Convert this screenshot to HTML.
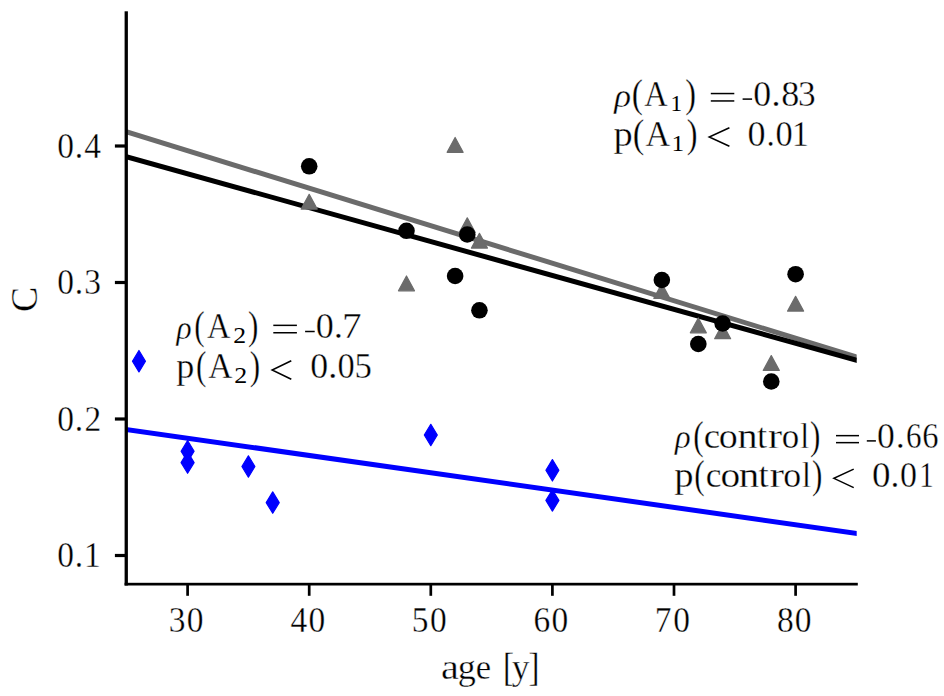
<!DOCTYPE html>
<html><head><meta charset="utf-8"><style>
html,body{margin:0;padding:0;background:#fff;}
svg{display:block;}
text{font-family:"Liberation Serif", serif;fill:#000;stroke:#fff;stroke-width:0.35px;}
</style></head><body>
<svg width="944" height="696" viewBox="0 0 944 696">
<rect width="944" height="696" fill="#fff"/>
<defs><clipPath id="ax"><rect x="126.8" y="0" width="729.9" height="696"/></clipPath></defs>
<g clip-path="url(#ax)">
<line x1="120.0" y1="428.56" x2="865.0" y2="534.58" stroke="#0000ff" stroke-width="5.0" stroke-linecap="butt"/>
<line x1="120.0" y1="129.83" x2="865.0" y2="359.66" stroke="#6b6b6b" stroke-width="5.0" stroke-linecap="butt"/>
<line x1="120.0" y1="154.87" x2="865.0" y2="362.58" stroke="#000" stroke-width="5.0" stroke-linecap="butt"/>
</g>
<polygon points="309.20,194.30 301.20,209.10 317.20,209.10" fill="#6b6b6b" stroke="#6b6b6b" stroke-width="1.2" stroke-linejoin="round"/>
<polygon points="406.48,276.00 398.48,290.80 414.48,290.80" fill="#6b6b6b" stroke="#6b6b6b" stroke-width="1.2" stroke-linejoin="round"/>
<polygon points="455.12,137.50 447.12,152.30 463.12,152.30" fill="#6b6b6b" stroke="#6b6b6b" stroke-width="1.2" stroke-linejoin="round"/>
<polygon points="467.28,217.80 459.28,232.60 475.28,232.60" fill="#6b6b6b" stroke="#6b6b6b" stroke-width="1.2" stroke-linejoin="round"/>
<polygon points="479.44,233.30 471.44,248.10 487.44,248.10" fill="#6b6b6b" stroke="#6b6b6b" stroke-width="1.2" stroke-linejoin="round"/>
<polygon points="661.84,283.60 653.84,298.40 669.84,298.40" fill="#6b6b6b" stroke="#6b6b6b" stroke-width="1.2" stroke-linejoin="round"/>
<polygon points="698.32,318.00 690.32,332.80 706.32,332.80" fill="#6b6b6b" stroke="#6b6b6b" stroke-width="1.2" stroke-linejoin="round"/>
<polygon points="722.64,323.90 714.64,338.70 730.64,338.70" fill="#6b6b6b" stroke="#6b6b6b" stroke-width="1.2" stroke-linejoin="round"/>
<polygon points="771.28,355.60 763.28,370.40 779.28,370.40" fill="#6b6b6b" stroke="#6b6b6b" stroke-width="1.2" stroke-linejoin="round"/>
<polygon points="795.60,296.30 787.60,311.10 803.60,311.10" fill="#6b6b6b" stroke="#6b6b6b" stroke-width="1.2" stroke-linejoin="round"/>
<circle cx="309.20" cy="166.30" r="8.3" fill="#000"/>
<circle cx="406.48" cy="230.80" r="8.3" fill="#000"/>
<circle cx="455.12" cy="276.00" r="8.3" fill="#000"/>
<circle cx="467.28" cy="234.50" r="8.3" fill="#000"/>
<circle cx="479.44" cy="310.30" r="8.3" fill="#000"/>
<circle cx="661.84" cy="280.00" r="8.3" fill="#000"/>
<circle cx="698.32" cy="344.00" r="8.3" fill="#000"/>
<circle cx="722.64" cy="323.50" r="8.3" fill="#000"/>
<circle cx="771.28" cy="381.50" r="8.3" fill="#000"/>
<circle cx="795.60" cy="274.20" r="8.3" fill="#000"/>
<polygon points="138.96,350.50 145.46,361.20 138.96,371.90 132.46,361.20" fill="#0000ff" stroke="#0000ff" stroke-width="1.2" stroke-linejoin="round"/>
<polygon points="187.60,440.50 194.10,451.20 187.60,461.90 181.10,451.20" fill="#0000ff" stroke="#0000ff" stroke-width="1.2" stroke-linejoin="round"/>
<polygon points="187.60,451.90 194.10,462.60 187.60,473.30 181.10,462.60" fill="#0000ff" stroke="#0000ff" stroke-width="1.2" stroke-linejoin="round"/>
<polygon points="248.40,455.80 254.90,466.50 248.40,477.20 241.90,466.50" fill="#0000ff" stroke="#0000ff" stroke-width="1.2" stroke-linejoin="round"/>
<polygon points="272.72,491.90 279.22,502.60 272.72,513.30 266.22,502.60" fill="#0000ff" stroke="#0000ff" stroke-width="1.2" stroke-linejoin="round"/>
<polygon points="430.80,424.30 437.30,435.00 430.80,445.70 424.30,435.00" fill="#0000ff" stroke="#0000ff" stroke-width="1.2" stroke-linejoin="round"/>
<polygon points="552.40,459.60 558.90,470.30 552.40,481.00 545.90,470.30" fill="#0000ff" stroke="#0000ff" stroke-width="1.2" stroke-linejoin="round"/>
<polygon points="552.40,489.70 558.90,500.40 552.40,511.10 545.90,500.40" fill="#0000ff" stroke="#0000ff" stroke-width="1.2" stroke-linejoin="round"/>
<rect x="124.6" y="11.3" width="3.3" height="574.2" fill="#000"/>
<rect x="124.6" y="582.8" width="733.2" height="2.7" fill="#000"/>
<rect x="186.25" y="584" width="2.7" height="11.8" fill="#000"/>
<rect x="307.85" y="584" width="2.7" height="11.8" fill="#000"/>
<rect x="429.45" y="584" width="2.7" height="11.8" fill="#000"/>
<rect x="551.05" y="584" width="2.7" height="11.8" fill="#000"/>
<rect x="672.65" y="584" width="2.7" height="11.8" fill="#000"/>
<rect x="794.25" y="584" width="2.7" height="11.8" fill="#000"/>
<rect x="114.9" y="553.90" width="11" height="3.2" fill="#000"/>
<rect x="114.9" y="417.40" width="11" height="3.2" fill="#000"/>
<rect x="114.9" y="280.90" width="11" height="3.2" fill="#000"/>
<rect x="114.9" y="144.40" width="11" height="3.2" fill="#000"/>
<text transform="matrix(0.9300,0,0,1,168.73,632.10)" font-size="36.0">3</text>
<text transform="matrix(0.9300,0,0,1,186.78,632.10)" font-size="36.0">0</text>
<text transform="matrix(0.9300,0,0,1,290.41,632.10)" font-size="36.0">4</text>
<text transform="matrix(0.9300,0,0,1,308.38,632.10)" font-size="36.0">0</text>
<text transform="matrix(0.9300,0,0,1,411.76,632.10)" font-size="36.0">5</text>
<text transform="matrix(0.9300,0,0,1,429.98,632.10)" font-size="36.0">0</text>
<text transform="matrix(0.9300,0,0,1,533.46,632.10)" font-size="36.0">6</text>
<text transform="matrix(0.9300,0,0,1,551.58,632.10)" font-size="36.0">0</text>
<text transform="matrix(0.9300,0,0,1,654.66,632.10)" font-size="36.0">7</text>
<text transform="matrix(0.9300,0,0,1,673.18,632.10)" font-size="36.0">0</text>
<text transform="matrix(0.9300,0,0,1,776.88,632.10)" font-size="36.0">8</text>
<text transform="matrix(0.9300,0,0,1,794.78,632.10)" font-size="36.0">0</text>
<text transform="matrix(0.9300,0,0,1,57.23,567.00)" font-size="36.0">0</text>
<text transform="matrix(0.9300,0,0,1,74.72,567.00)" font-size="36.0">.</text>
<text transform="matrix(0.9300,0,0,1,83.96,567.00)" font-size="36.0">1</text>
<text transform="matrix(0.9300,0,0,1,57.23,430.50)" font-size="36.0">0</text>
<text transform="matrix(0.9300,0,0,1,74.72,430.50)" font-size="36.0">.</text>
<text transform="matrix(0.9300,0,0,1,84.62,430.50)" font-size="36.0">2</text>
<text transform="matrix(0.9300,0,0,1,57.23,294.00)" font-size="36.0">0</text>
<text transform="matrix(0.9300,0,0,1,74.72,294.00)" font-size="36.0">.</text>
<text transform="matrix(0.9300,0,0,1,84.28,294.00)" font-size="36.0">3</text>
<text transform="matrix(0.9300,0,0,1,57.23,157.50)" font-size="36.0">0</text>
<text transform="matrix(0.9300,0,0,1,74.72,157.50)" font-size="36.0">.</text>
<text transform="matrix(0.9300,0,0,1,84.36,157.50)" font-size="36.0">4</text>
<text transform="matrix(1.1500,0,0,1,440.98,678.70)" font-size="35.0">a</text>
<text transform="matrix(1.0307,0,0,1,457.75,678.70)" font-size="35.0">g</text>
<text transform="matrix(0.9881,0,0,1,475.85,678.70)" font-size="35.0">e</text>
<text transform="matrix(0.8000,0,0,1,503.06,681.30)" font-size="41">[</text>
<text transform="matrix(1.0156,0,0,1,511.77,678.70)" font-size="35.0">y</text>
<text transform="matrix(0.8000,0,0,1,528.46,681.30)" font-size="41">]</text>
<text transform="matrix(1.0277,0,0,1,614.19,106.60)" font-size="34" font-style="italic">ρ</text>
<text transform="matrix(0.8586,0,0,1,631.83,107.00)" font-size="39">(</text>
<text transform="matrix(0.9280,0,0,1,644.18,106.00)" font-size="35.0">A</text>
<text transform="matrix(0.9912,0,0,1,670.45,111.20)" font-size="23.5" style="stroke:none">1</text>
<text transform="matrix(0.8286,0,0,1,685.36,107.00)" font-size="39">)</text>
<rect x="710.80" y="92.80" width="23.50" height="1.50" fill="#000"/>
<rect x="710.80" y="100.20" width="23.50" height="1.50" fill="#000"/>
<rect x="742.60" y="98.35" width="9.50" height="1.50" fill="#000"/>
<text transform="matrix(1.0247,0,0,1,753.33,106.00)" font-size="35.0">0</text>
<text transform="matrix(1.0881,0,0,1,771.19,106.00)" font-size="35.0">.</text>
<text transform="matrix(1.0314,0,0,1,781.23,106.00)" font-size="35.0">8</text>
<text transform="matrix(1.0098,0,0,1,798.11,106.00)" font-size="35.0">3</text>
<text transform="matrix(1.0983,0,0,1,613.38,145.90)" font-size="35.0">p</text>
<text transform="matrix(0.8885,0,0,1,632.78,146.90)" font-size="39">(</text>
<text transform="matrix(0.9766,0,0,1,645.47,145.90)" font-size="35.0">A</text>
<text transform="matrix(1.0758,0,0,1,671.48,151.10)" font-size="23.5" style="stroke:none">1</text>
<text transform="matrix(0.8286,0,0,1,686.66,146.90)" font-size="39">)</text>
<polyline points="729.40,127.70 709.20,136.95 729.40,146.20" fill="none" stroke="#000" stroke-width="1.5" stroke-linejoin="miter" stroke-miterlimit="10"/>
<text transform="matrix(1.0314,0,0,1,747.53,145.90)" font-size="35.0">0</text>
<text transform="matrix(0.9430,0,0,1,766.42,145.90)" font-size="35.0">.</text>
<text transform="matrix(0.9842,0,0,1,775.59,145.90)" font-size="35.0">0</text>
<text transform="matrix(0.9820,0,0,1,791.68,145.90)" font-size="35.0">1</text>
<text transform="matrix(0.9286,0,0,1,176.50,339.00)" font-size="34" font-style="italic">ρ</text>
<text transform="matrix(0.8000,0,0,1,194.37,339.40)" font-size="39">(</text>
<text transform="matrix(0.9280,0,0,1,207.08,338.40)" font-size="35.0">A</text>
<text transform="matrix(1.0933,0,0,1,233.27,343.40)" font-size="23.5" style="stroke:none">2</text>
<text transform="matrix(0.8000,0,0,1,248.04,339.40)" font-size="39">)</text>
<rect x="273.30" y="324.60" width="23.60" height="1.50" fill="#000"/>
<rect x="273.30" y="332.00" width="23.60" height="1.50" fill="#000"/>
<rect x="305.10" y="330.75" width="9.60" height="1.50" fill="#000"/>
<text transform="matrix(1.0314,0,0,1,315.83,338.40)" font-size="35.0">0</text>
<text transform="matrix(1.0639,0,0,1,333.85,338.40)" font-size="35.0">.</text>
<text transform="matrix(1.1209,0,0,1,341.91,338.40)" font-size="35.0">7</text>
<text transform="matrix(1.0341,0,0,1,176.32,378.40)" font-size="35.0">p</text>
<text transform="matrix(0.8000,0,0,1,195.97,379.40)" font-size="39">(</text>
<text transform="matrix(0.9563,0,0,1,208.17,378.40)" font-size="35.0">A</text>
<text transform="matrix(1.1040,0,0,1,234.36,383.40)" font-size="23.5" style="stroke:none">2</text>
<text transform="matrix(0.8000,0,0,1,249.74,379.40)" font-size="39">)</text>
<polyline points="291.30,360.70 272.10,369.95 291.30,379.20" fill="none" stroke="#000" stroke-width="1.5" stroke-linejoin="miter" stroke-miterlimit="10"/>
<text transform="matrix(1.0247,0,0,1,310.13,378.40)" font-size="35.0">0</text>
<text transform="matrix(1.0881,0,0,1,327.99,378.40)" font-size="35.0">.</text>
<text transform="matrix(0.9842,0,0,1,337.49,378.40)" font-size="35.0">0</text>
<text transform="matrix(0.9930,0,0,1,354.58,378.40)" font-size="35.0">5</text>
<text transform="matrix(0.9596,0,0,1,675.03,448.40)" font-size="34" font-style="italic">ρ</text>
<text transform="matrix(0.8000,0,0,1,693.17,448.80)" font-size="39">(</text>
<text transform="matrix(1.0514,0,0,1,703.80,447.80)" font-size="35.0">c</text>
<text transform="matrix(1.0853,0,0,1,718.75,447.80)" font-size="35.0">o</text>
<text transform="matrix(1.1505,0,0,1,737.38,447.80)" font-size="35.0">n</text>
<text transform="matrix(1.0352,0,0,1,757.05,447.80)" font-size="35.0">t</text>
<text transform="matrix(1.2116,0,0,1,767.95,447.80)" font-size="35.0">r</text>
<text transform="matrix(0.9977,0,0,1,781.77,447.80)" font-size="35.0">o</text>
<text transform="matrix(0.9132,0,0,1,800.16,447.80)" font-size="35.0">l</text>
<text transform="matrix(0.8000,0,0,1,810.09,448.80)" font-size="39">)</text>
<rect x="836.00" y="434.90" width="23.00" height="1.50" fill="#000"/>
<rect x="836.00" y="441.90" width="23.00" height="1.50" fill="#000"/>
<rect x="866.80" y="440.15" width="9.10" height="1.50" fill="#000"/>
<text transform="matrix(1.0179,0,0,1,876.94,447.80)" font-size="35.0">0</text>
<text transform="matrix(1.0397,0,0,1,895.80,447.80)" font-size="35.0">.</text>
<text transform="matrix(0.8894,0,0,1,905.96,447.80)" font-size="35.0">6</text>
<text transform="matrix(0.9295,0,0,1,922.20,447.80)" font-size="35.0">6</text>
<text transform="matrix(1.1048,0,0,1,674.18,486.80)" font-size="35.0">p</text>
<text transform="matrix(0.8000,0,0,1,694.37,487.80)" font-size="39">(</text>
<text transform="matrix(1.0057,0,0,1,705.66,486.80)" font-size="35.0">c</text>
<text transform="matrix(1.1258,0,0,1,720.40,486.80)" font-size="35.0">o</text>
<text transform="matrix(1.1752,0,0,1,738.86,486.80)" font-size="35.0">n</text>
<text transform="matrix(1.0461,0,0,1,758.44,486.80)" font-size="35.0">t</text>
<text transform="matrix(1.2492,0,0,1,769.42,486.80)" font-size="35.0">r</text>
<text transform="matrix(1.0247,0,0,1,783.23,486.80)" font-size="35.0">o</text>
<text transform="matrix(0.9132,0,0,1,802.06,486.80)" font-size="35.0">l</text>
<text transform="matrix(0.8000,0,0,1,811.99,487.80)" font-size="39">)</text>
<polyline points="853.70,469.10 833.90,478.35 853.70,487.60" fill="none" stroke="#000" stroke-width="1.5" stroke-linejoin="miter" stroke-miterlimit="10"/>
<text transform="matrix(1.0584,0,0,1,872.09,486.80)" font-size="35.0">0</text>
<text transform="matrix(1.0155,0,0,1,890.46,486.80)" font-size="35.0">.</text>
<text transform="matrix(0.9707,0,0,1,900.01,486.80)" font-size="35.0">0</text>
<text transform="matrix(0.8278,0,0,1,919.25,486.80)" font-size="35.0">1</text>
<text transform="translate(37.13,311.95) rotate(-90)" font-size="38">C</text>
</svg>
</body></html>
